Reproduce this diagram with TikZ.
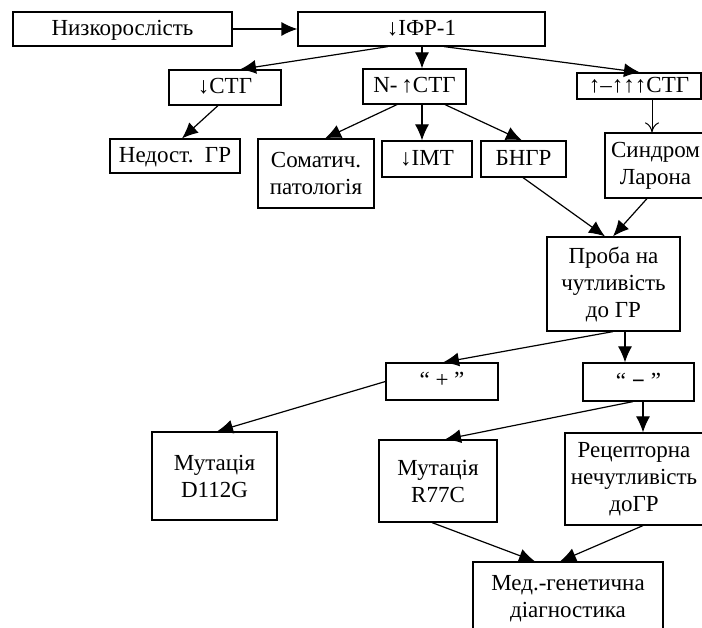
\documentclass[tikz,border=0pt]{standalone}
\usepackage{fontspec}
\setmainfont{Liberation Serif}
\usetikzlibrary{arrows.meta}
\tikzset{
  box/.style={draw, line width=1.2pt, rectangle, inner sep=0pt, align=center,
    font=\fontsize{23}{27}\selectfont},
  one/.style={text height=16pt, text depth=3pt},
  arr/.style={line width=1.2pt, -{Latex[length=16pt,width=14pt]}},
  thinarr/.style={line width=1pt, -{Computer Modern Rightarrow[length=10pt,width=14pt]}}
}
\begin{document}
\begin{tikzpicture}[x=1pt,y=-1pt]
\useasboundingbox (0,0) rectangle (702,628);
\node[box, one, minimum width=219pt, minimum height=34pt] (n1) at (122.5,29) {Низкорослість};
\node[box, one, minimum width=247pt, minimum height=34pt] (n2) at (421.5,29) {↓ІФР-1};
\node[box, one, minimum width=112pt, minimum height=35pt] (n3) at (225,87.5) {↓СТГ};
\node[box, one, minimum width=103pt, minimum height=35pt] (n4) at (414.5,86.5) {N-\,↑СТГ};
\node[box, one, minimum width=124pt, minimum height=26pt] (n5) at (639,86) {↑–↑↑↑СТГ};
\node[box, one, minimum width=130pt, minimum height=34pt] (n6) at (175,156) {Недост.\ \ ГР};
\node[box, minimum width=116pt, minimum height=69pt] (n7) at (316,173.5) {Соматич.\\патологія};
\node[box, one, minimum width=90pt, minimum height=36pt] (n8) at (427,159) {↓ІМТ};
\node[box, one, minimum width=85pt, minimum height=36pt] (n9) at (523.5,159) {БНГР};
\node[box, minimum width=101pt, minimum height=65pt] (n10) at (655.5,165.5) {Синдром\\Ларона};
\node[box, minimum width=133pt, minimum height=94pt] (n11) at (613.5,284) {Проба на\\чутливість\\до ГР};
\node[box, one, minimum width=112pt, minimum height=37pt] (n12) at (442,381.5) {“ + ”};
\node[box, one, minimum width=111pt, minimum height=38pt] (n13) at (638.5,382) {“ \textbf{−} ”};
\node[box, minimum width=125pt, minimum height=88pt] (n14) at (214.5,476) {Мутація\\D112G};
\node[box, minimum width=118pt, minimum height=82pt] (n15) at (438,481) {Мутація\\R77C};
\node[box, minimum width=138pt, minimum height=92pt] (n16) at (634,479) {Рецепторна\\нечутливість\\доГР};
\node[box, minimum width=190pt, minimum height=73pt] (n17) at (568,598.5) {Мед.-генетична\\діагностика};

\draw[arr] (n1.east) -- (n2.west);
\draw[arr] ([xshift=-33.5pt]n2.south) -- ([xshift=15pt]n3.north);
\draw[arr] ([xshift=0.5pt]n2.south) -- ([xshift=7.5pt]n4.north);
\draw[arr] ([xshift=22.5pt]n2.south) -- ([xshift=1pt]n5.north);
\draw[thinarr] ([xshift=13pt]n5.south) -- ([xshift=-3.5pt]n10.north);
\draw[arr] ([xshift=-7pt]n3.south) -- ([xshift=7pt]n6.north);
\draw[arr] ([xshift=-17.5pt]n4.south) -- ([xshift=9pt]n7.north);
\draw[arr] ([xshift=7.5pt]n4.south) -- ([xshift=-5pt]n8.north);
\draw[arr] ([xshift=30.5pt]n4.south) -- ([xshift=-1.5pt]n9.north);
\draw[arr] ([xshift=-0.5pt]n9.south) -- ([xshift=-8.5pt]n11.north);
\draw[arr] ([xshift=-8.5pt]n10.south) -- ([xshift=-0.5pt]n11.north);
\draw[arr] ([xshift=-0.5pt]n11.south) -- ([xshift=1pt]n12.north);
\draw[arr] ([xshift=11.5pt]n11.south) -- ([xshift=-13.5pt]n13.north);
\draw[arr] (n12.west) -- ([xshift=2.5pt]n14.north);
\draw[arr] ([xshift=-5.5pt]n13.south) -- ([xshift=7pt]n15.north);
\draw[arr] ([xshift=4.5pt]n13.south) -- ([xshift=9pt]n16.north);
\draw[arr] ([xshift=-6pt]n15.south) -- ([xshift=-33pt]n17.north);
\draw[arr] ([xshift=9pt]n16.south) -- ([xshift=-8pt]n17.north);
\end{tikzpicture}
\end{document}
